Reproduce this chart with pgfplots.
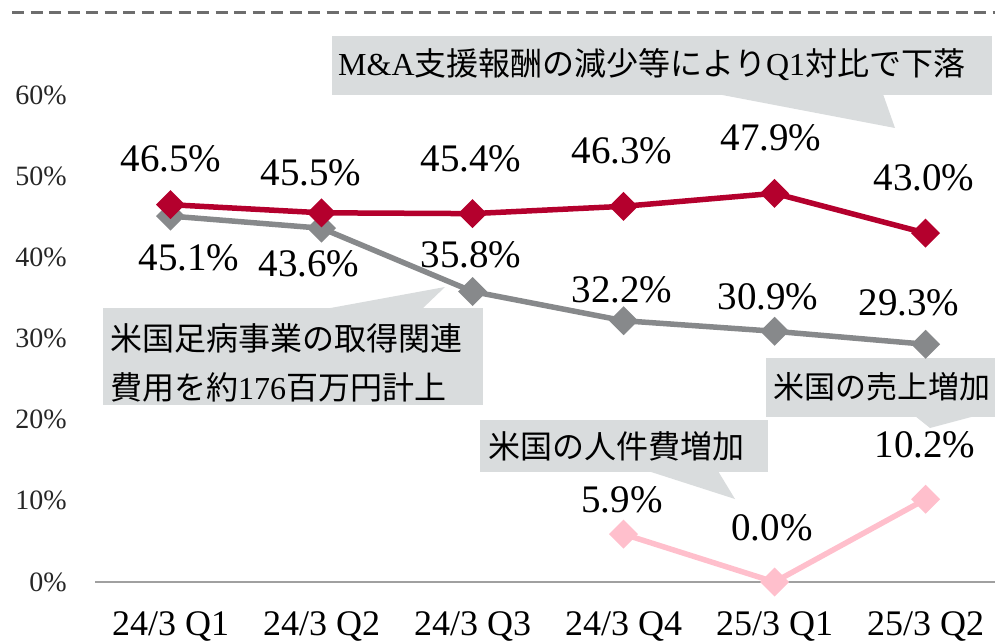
\documentclass[border=0pt]{standalone}
\usepackage{fontspec}
\setmainfont{Liberation Serif}
\newfontfamily\cjk{Noto Sans CJK JP}
\usepackage{pgfplots}
\pgfplotsset{compat=1.18}
\definecolor{redc}{HTML}{B4002D}
\definecolor{grayc}{HTML}{87898B}
\definecolor{pinkc}{HTML}{FFBFCC}
\definecolor{boxc}{HTML}{D9DCDD}
\definecolor{dashc}{HTML}{6D6D6D}
\definecolor{basec}{HTML}{A0A0A0}
\begin{document}
\begin{tikzpicture}[x=1pt,y=1pt]
\useasboundingbox (0,0) rectangle (995,641);
\clip (0,0) rectangle (995,641);
% callout boxes (behind everything)
\fill[boxc] (332,546) rectangle (992,605);
\fill[boxc] (717,547) -- (883,547) -- (895,513) -- cycle;
\fill[boxc] (103,236) rectangle (483,333);
\fill[boxc] (325,332) -- (422,332) -- (445,354) -- cycle;
\fill[boxc] (766,224) rectangle (995,283);
\fill[boxc] (915,225) -- (975,225) -- (930,213) -- cycle;
\fill[boxc] (480,169) rectangle (768,221);
\fill[boxc] (648,170) -- (718,170) -- (735,142) -- cycle;
% top dashed line
\draw[dashc, line width=3pt, dash pattern=on 12pt off 6.5pt] (12,628.5) -- (995,628.5);
\begin{axis}[
  at={(95pt,59pt)}, anchor=south west,
  scale only axis, width=900pt, height=568pt,
  xmin=-0.5, xmax=5.46, ymin=0, ymax=70,
  clip=false,
  axis y line*=left, axis x line*=bottom,
  y axis line style={draw=none},
  x axis line style={basec, line width=1.5pt, -},
  major tick length=0pt,
  xtick={0,1,2,3,4,5},
  xticklabels={24/3 Q1,24/3 Q2,24/3 Q3,24/3 Q4,25/3 Q1,25/3 Q2},
  ytick={0,10,20,30,40,50,60},
  yticklabels={0\%,10\%,20\%,30\%,40\%,50\%,60\%},
  xticklabel style={font=\fontsize{36}{38}\selectfont, inner sep=0pt, anchor=north, yshift=-29pt},
  yticklabel style={font=\fontsize{28}{30}\selectfont, text=black!85, inner sep=0pt, anchor=east, xshift=-28pt},
]
\addplot[grayc, line width=5.5pt, mark=square*, mark size=7.5pt, mark options={rotate=45, solid}] coordinates {(0,45.1) (1,43.6) (2,35.8) (3,32.2) (4,30.9) (5,29.3)};
\addplot[redc, line width=5.5pt, mark=square*, mark size=7.5pt, mark options={rotate=45, solid}] coordinates {(0,46.5) (1,45.5) (2,45.4) (3,46.3) (4,47.9) (5,43.0)};
\addplot[pinkc, line width=5.5pt, mark=square*, mark size=7.5pt, mark options={rotate=45, solid}] coordinates {(3,5.9) (4,0.0) (5,10.2)};
\end{axis}
% data labels
\begin{scope}[every node/.style={font=\fontsize{39}{42}\selectfont, inner sep=0pt}]
\node at (171,482) {46.5\%};
\node at (311,468) {45.5\%};
\node at (471,482) {45.4\%};
\node at (622,490) {46.3\%};
\node at (771,503) {47.9\%};
\node at (924,463) {43.0\%};
\node at (189,383) {45.1\%};
\node at (309,377) {43.6\%};
\node at (471,386) {35.8\%};
\node at (622,351) {32.2\%};
\node at (768,344) {30.9\%};
\node at (909,338) {29.3\%};
\node at (622,141) {5.9\%};
\node at (772,113) {0.0\%};
\node at (925,196) {10.2\%};
\end{scope}
% callout texts
\begin{scope}[every node/.style={font=\fontsize{32}{34}\selectfont, inner sep=0pt, anchor=west}]
\node at (338,576) {M\&A{\cjk 支援報酬の減少等により}Q1{\cjk 対比で下落}};
\node at (110,303) {\cjk 米国足病事業の取得関連};
\node at (110,254) {{\cjk 費用を約}176{\cjk 百万円計上}};
\node[font=\fontsize{31}{34}\selectfont] at (773,254) {\cjk 米国の売上増加};
\node at (488,195) {\cjk 米国の人件費増加};
\end{scope}
\end{tikzpicture}
\end{document}
